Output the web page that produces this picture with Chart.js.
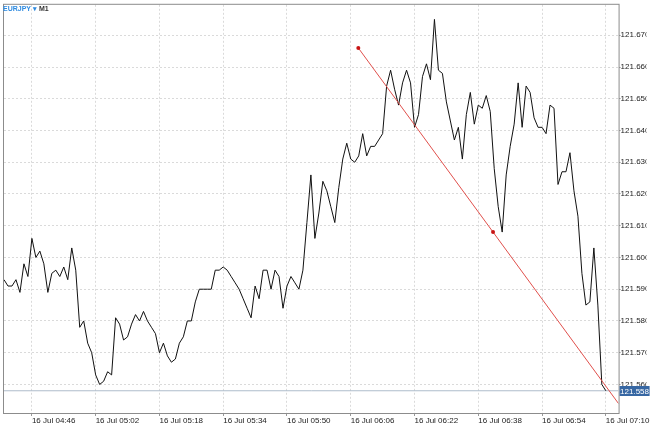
<!DOCTYPE html>
<html>
<head>
<meta charset="utf-8">
<script src="https://cdn.jsdelivr.net/npm/chart.js@4.4.1/dist/chart.umd.min.js"></script>
<style>
  html, body { margin: 0; padding: 0; background: #ffffff; }
  #wrap { width: 650px; height: 427px; }
</style>
</head>
<body>
<div id="wrap"><canvas id="chart" width="650" height="427"></canvas></div>
<script>
// EURJPY M1 closes, one per minute starting at the first bar
const symbol = 'EURJPY';
const period = 'M1';
const dayLabel = '16 Jul';
const firstBar = '04:39';
const closes = [
  121.593, 121.591, 121.591, 121.593, 121.589, 121.598, 121.594, 121.606, 121.600, 121.602,
  121.598, 121.589, 121.595, 121.596, 121.594, 121.597, 121.593, 121.603, 121.596, 121.578,
  121.580, 121.573, 121.570, 121.563, 121.560, 121.561, 121.564, 121.563, 121.581, 121.579,
  121.574, 121.575, 121.579, 121.582, 121.580, 121.583, 121.580, 121.578, 121.576, 121.570,
  121.573, 121.569, 121.567, 121.568, 121.573, 121.575, 121.580, 121.580, 121.586, 121.590,
  121.590, 121.590, 121.590, 121.596, 121.596, 121.597, 121.596, 121.594, 121.592, 121.590,
  121.587, 121.584, 121.581, 121.591, 121.587, 121.596, 121.596, 121.590, 121.596, 121.594,
  121.584, 121.591, 121.594, 121.592, 121.590, 121.596, 121.611, 121.626, 121.606, 121.614,
  121.624, 121.621, 121.616, 121.611, 121.622, 121.631, 121.636, 121.631, 121.630, 121.632,
  121.639, 121.632, 121.635, 121.635, 121.637, 121.639, 121.654, 121.659, 121.653, 121.648,
  121.655, 121.659, 121.655, 121.641, 121.645, 121.657, 121.661, 121.656, 121.675, 121.659,
  121.658, 121.649, 121.643, 121.637, 121.641, 121.631, 121.645, 121.652, 121.642, 121.648,
  121.647, 121.651, 121.646, 121.628, 121.616, 121.608, 121.626, 121.635, 121.642, 121.655,
  121.641, 121.654, 121.652, 121.644, 121.641, 121.641, 121.639, 121.648, 121.647, 121.623,
  121.627, 121.627, 121.633, 121.621, 121.613, 121.595, 121.585, 121.586, 121.603, 121.585,
  121.560, 121.558
];
const timeTicks = ['04:46', '05:02', '05:18', '05:34', '05:50', '06:06', '06:22', '06:38', '06:54', '07:10'];
const priceTicks = [121.560, 121.570, 121.580, 121.590, 121.600, 121.610, 121.620, 121.630, 121.640, 121.650, 121.660, 121.670];

// trend line anchors (drawn as a ray to the right edge)
const trendTimes = ['06:07:54', '06:41:42'];
const trendPrices = [121.666, 121.608];

const priceMin = 121.551;
const priceMax = 121.6796;
const lastPrice = closes[closes.length - 1];

function toMinutes(t) {
    const p = t.split(':').map(Number);
    return p[0] * 60 + p[1] + (p[2] || 0) / 60;
}
const start = toMinutes(firstBar);
const xMin = 0;
const xMax = 154.2;

const pricePoints = closes.map((v, i) => ({ x: i, y: v }));

const tx = trendTimes.map(t => toMinutes(t) - start);
const slope = (trendPrices[1] - trendPrices[0]) / (tx[1] - tx[0]);
const trendPoints = [
    { x: tx[0], y: trendPrices[0] },
    { x: tx[1], y: trendPrices[1] },
    { x: xMax, y: trendPrices[1] + slope * (xMax - tx[1]) },
];

const frame = {
    id: 'frame',
    afterDraw(chart) {
        const { ctx, chartArea: a, scales } = chart;
        ctx.save();
        // plot border
        ctx.strokeStyle = '#8c8c8c';
        ctx.lineWidth = 1;
        ctx.strokeRect(a.left - 0.5, a.top - 0.5, a.right - a.left + 1, a.bottom - a.top + 1);

        // current price tag on the right axis
        const py = Math.round(scales.y.getPixelForValue(lastPrice));
        ctx.fillStyle = '#3767a3';
        ctx.fillRect(a.right + 1, py - 5, 30, 10);
        ctx.fillStyle = '#ffffff';
        ctx.font = '8px "Liberation Sans", Arial, sans-serif';
        ctx.textBaseline = 'middle';
        ctx.textAlign = 'left';
        ctx.fillText(lastPrice.toFixed(3), a.right + 1.5, py + 0.5);

        // symbol caption
        ctx.font = 'bold 7px "Liberation Sans", Arial, sans-serif';
        ctx.fillStyle = '#2f8be0';
        ctx.fillText(symbol, 3, 9);
        let w = ctx.measureText(symbol).width;
        ctx.fillText('\u25BE', 3 + w + 2, 9);
        w += ctx.measureText('\u25BE').width + 4;
        ctx.fillStyle = '#333333';
        ctx.fillText(period, 3 + w, 9);
        ctx.restore();
    }
};

const ctx = document.getElementById('chart').getContext('2d');
new Chart(ctx, {
    type: 'line',
    data: {
        datasets: [
            {
                label: 'Close',
                data: pricePoints,
                borderColor: '#111111',
                borderWidth: 1,
                pointRadius: 0,
                tension: 0,
                order: 2,
            },
            {
                label: 'Last',
                data: [{ x: xMin, y: lastPrice }, { x: xMax, y: lastPrice }],
                borderColor: '#aebccb',
                borderWidth: 1,
                pointRadius: 0,
                order: 3,
            },
            {
                label: 'Trend',
                data: trendPoints,
                borderColor: '#e0504c',
                borderWidth: 1,
                pointRadius: [2, 2, 0],
                pointBackgroundColor: '#c81414',
                pointBorderWidth: 0,
                order: 1,
            },
        ],
    },
    options: {
        responsive: false,
        animation: false,
        events: [],
        layout: { padding: { left: 1, top: 3, right: 0, bottom: 0 } },
        plugins: { legend: { display: false }, tooltip: { enabled: false } },
        scales: {
            x: {
                type: 'linear',
                min: xMin,
                max: xMax,
                afterBuildTicks: (scale) => {
                    scale.ticks = timeTicks.map(t => ({ value: toMinutes(t) - start, label: t }));
                },
                afterFit: (scale) => { scale.height = 14; },
                ticks: {
                    autoSkip: false,
                    maxRotation: 0,
                    align: 'start',
                    padding: 0,
                    color: '#222222',
                    font: { family: '"Liberation Sans", Arial, sans-serif', size: 8 },
                    callback: function (value, index) {
                        return dayLabel + ' ' + timeTicks[index];
                    },
                },
                grid: { color: '#dadada', lineWidth: 1, tickLength: 3, tickColor: '#9a9a9a' },
                border: { display: false, dash: [2, 2] },
            },
            y: {
                type: 'linear',
                position: 'right',
                min: priceMin,
                max: priceMax,
                afterBuildTicks: (scale) => {
                    scale.ticks = priceTicks.map(v => ({ value: v }));
                },
                afterFit: (scale) => { scale.width = 28; },
                ticks: {
                    autoSkip: false,
                    padding: 0,
                    color: '#222222',
                    font: { family: '"Liberation Sans", Arial, sans-serif', size: 8 },
                    callback: (value) => Number(value).toFixed(3),
                },
                grid: { color: '#dadada', lineWidth: 1, tickLength: 2, tickColor: '#9a9a9a' },
                border: { display: false, dash: [2, 2] },
            },
        },
    },
    plugins: [frame],
});
</script>
</body>
</html>
